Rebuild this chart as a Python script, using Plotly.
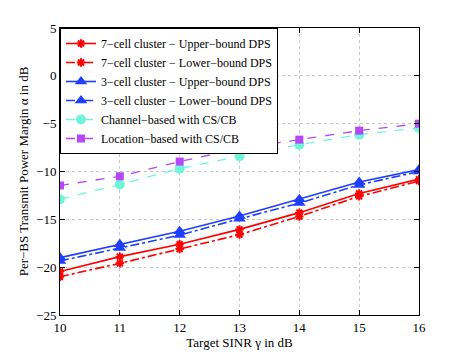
import plotly.graph_objects as go

sinr = [10, 11, 12, 13, 14, 15, 16]

red_upper = [-20.45, -18.9, -17.6, -16.05, -14.3, -12.3, -10.8]
red_lower = [-21.0, -19.6, -18.1, -16.6, -14.7, -12.6, -11.0]
blue_upper = [-19.0, -17.6, -16.25, -14.65, -12.9, -11.1, -9.8]
blue_lower = [-19.35, -18.0, -16.65, -14.95, -13.3, -11.4, -10.0]
channel_cscb = [-12.9, -11.35, -9.7, -8.4, -7.2, -6.15, -5.45]
location_cscb = [-11.46, -10.5, -8.96, -7.6, -6.67, -5.73, -5.0]

names = [
    "7\u2212cell cluster \u2212 Upper\u2212bound DPS",
    "7\u2212cell cluster \u2212 Lower\u2212bound DPS",
    "3\u2212cell cluster \u2212 Upper\u2212bound DPS",
    "3\u2212cell cluster \u2212 Lower\u2212bound DPS",
    "Channel\u2212based with CS/CB",
    "Location\u2212based with CS/CB",
]

red = "#ff0000"
blue = "#1f3fff"
cyan = "#6ff5d8"
purple = "#b648f5"
serif = "Liberation Serif"

fig = go.Figure()
fig.add_trace(go.Scatter(x=sinr, y=red_upper, name=names[0], mode="lines+markers",
                         line=dict(color=red, width=1.6),
                         marker=dict(symbol="asterisk-open", size=7, color=red, line=dict(width=2, color=red))))
fig.add_trace(go.Scatter(x=sinr, y=red_lower, name=names[1], mode="lines+markers",
                         line=dict(color=red, width=1.6, dash="dashdot"),
                         marker=dict(symbol="asterisk-open", size=7, color=red, line=dict(width=2, color=red))))
fig.add_trace(go.Scatter(x=sinr, y=blue_upper, name=names[2], mode="lines+markers",
                         line=dict(color=blue, width=1.6),
                         marker=dict(symbol="triangle-up", size=11, color=blue)))
fig.add_trace(go.Scatter(x=sinr, y=blue_lower, name=names[3], mode="lines+markers",
                         line=dict(color=blue, width=1.6, dash="dashdot"),
                         marker=dict(symbol="triangle-up", size=11, color=blue)))
fig.add_trace(go.Scatter(x=sinr, y=channel_cscb, name=names[4], mode="lines+markers",
                         line=dict(color=cyan, width=1.3, dash="dash"),
                         marker=dict(symbol="circle", size=10, color=cyan)))
fig.add_trace(go.Scatter(x=sinr, y=location_cscb, name=names[5], mode="lines+markers",
                         line=dict(color=purple, width=1.3, dash="dash"),
                         marker=dict(symbol="square", size=8, color=purple)))

axis_common = dict(
    showline=True, linecolor="black", linewidth=1, mirror="ticks",
    ticks="inside", ticklen=5, tickcolor="black",
    showgrid=True, gridcolor="#c8c8c8", griddash="dot", gridwidth=1,
    zeroline=False, automargin=False,
    tickfont=dict(family=serif, size=13, color="black"),
)

fig.update_xaxes(range=[10, 16], dtick=1,
                 title=dict(text="Target SINR \u03b3 in dB", standoff=0,
                            font=dict(family=serif, size=13, color="black")),
                 **axis_common)
fig.update_yaxes(range=[-25, 5], dtick=5,
                 title=dict(text="Per\u2212BS Transmit Power Margin \u03b1 in dB", standoff=4,
                            font=dict(family=serif, size=13, color="black")),
                 **axis_common)

fig.update_layout(
    width=455, height=347,
    margin=dict(l=52, r=44, t=20, b=40),
    plot_bgcolor="white", paper_bgcolor="white",
    font=dict(family=serif, size=13, color="black"),
    legend=dict(x=0, y=1, xanchor="left", yanchor="top",
                bgcolor="white", bordercolor="black", borderwidth=1,
                font=dict(family=serif, size=12, color="black"),
                tracegroupgap=0, itemwidth=30),
)

fig.write_html("out.html")
